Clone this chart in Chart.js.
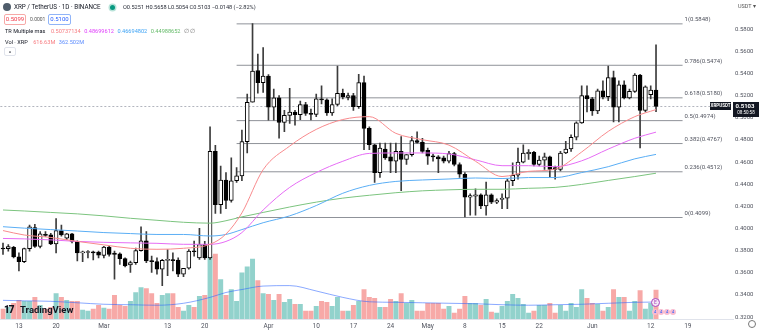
<!DOCTYPE html>
<html>
<head>
<meta charset="utf-8">
<script src="https://cdn.jsdelivr.net/npm/chart.js@4.4.0/dist/chart.umd.min.js"></script>
<style>
  html, body { margin: 0; padding: 0; background: #fff; }
  #wrap { position: relative; width: 760px; height: 331px; overflow: hidden; font-family: Roboto, "Liberation Sans", sans-serif; }
  #chart { position: absolute; left: 0; top: 0; }
  .t { position: absolute; white-space: nowrap; font-size: 6px; line-height: 7px; color: #131722; }
  .row { position: absolute; display: flex; gap: 3.5px; white-space: nowrap; font-size: 5.6px; line-height: 7px; color: #131722; }
  .box { position: absolute; font-size: 6px; line-height: 8px; text-align: center; border: 1px solid; border-radius: 2px; background: #fff; }
  .dot { position: absolute; border-radius: 50%; }
</style>
</head>
<body>
<div id="wrap">
  <canvas id="chart" width="760" height="331"></canvas>

  <div class="dot" style="left:3px;top:3px;width:8px;height:8px;background:#4f5d6b;"></div>
  <div class="t" style="left:14px;top:4px;font-size:6.3px;">XRP / TetherUS · 1D · BINANCE</div>
  <div class="dot" style="left:110px;top:5px;width:5px;height:5px;background:#089981;box-shadow:0 0 0 1.5px #b9e3d9;"></div>
  <div class="t" style="left:123px;top:4px;font-size:5.6px;color:#2a2e39;">O0.5251 H0.5658 L0.5054 C0.5103 −0.0148 (−2.82%)</div>

  <div class="box" style="left:4px;top:14px;width:20px;height:9px;border-color:#f7a9a7;color:#f23645;">0.5099</div>
  <div class="t" style="left:30px;top:16px;font-size:5px;color:#555;">0.0001</div>
  <div class="box" style="left:48px;top:14px;width:21px;height:9px;border-color:#90b4f8;color:#2962ff;">0.5100</div>

  <div class="row" style="left:5px;top:28px;">
    <span style="margin-right:2px;">TR Multiple mas</span>
    <span style="color:#f77c80;">0.50737134</span>
    <span style="color:#e040fb;">0.48699612</span>
    <span style="color:#42a5f5;">0.46694802</span>
    <span style="color:#66bb6a;">0.44988652</span>
    <span style="color:#777;">∅ ∅</span>
  </div>

  <div class="row" style="left:5px;top:39px;">
    <span style="margin-right:2px;">Vol · XRP</span>
    <span style="color:#f77c80;">616.63M</span>
    <span style="color:#5b8cff;">362.502M</span>
  </div>

  <div class="box" style="left:4px;top:47px;width:10px;height:7px;border-color:#e0e3eb;color:#131722;line-height:9px;">^</div>

  <div class="t" style="left:738px;top:3px;font-size:5.5px;color:#555;">USDT ▾</div>

  <div class="t" style="left:4px;top:304px;font-size:10px;line-height:11px;font-weight:900;letter-spacing:-1px;">17</div>
  <div class="t" style="left:20px;top:304px;font-size:9.5px;line-height:11px;font-weight:700;">TradingView</div>

  <div class="dot" style="left:651px;top:298px;width:7px;height:7px;border:1px solid #ab47bc;background:#f3e5f5;color:#ab47bc;font-size:5px;line-height:7px;text-align:center;">E</div>
  <div class="dot" style="left:652px;top:309px;width:6px;height:6px;background:#f8bbd0;color:#2962ff;font-size:4px;line-height:6px;text-align:center;">4</div>
  <div class="dot" style="left:658px;top:309px;width:6px;height:6px;background:#f8bbd0;color:#2962ff;font-size:4px;line-height:6px;text-align:center;">4</div>
  <div class="dot" style="left:664px;top:309px;width:6px;height:6px;background:#f8bbd0;color:#2962ff;font-size:4px;line-height:6px;text-align:center;">4</div>
  <div class="dot" style="left:670px;top:309px;width:6px;height:6px;background:#f8bbd0;color:#2962ff;font-size:4px;line-height:6px;text-align:center;">4</div>

  <div class="dot" style="left:748px;top:320px;width:6px;height:6px;border:1px solid #777;"></div>
</div>

<script>
// daily candles, 2023-02-10 .. 2023-06-13
const opens = [
  0.3818, 0.3818, 0.3830, 0.3744, 0.3700, 0.3818, 0.4008, 0.3839, 0.3948, 0.3942,
  0.3860, 0.3981, 0.3913, 0.3951, 0.3883, 0.3780, 0.3783, 0.3786, 0.3786, 0.3756,
  0.3833, 0.3777, 0.3771, 0.3727, 0.3670, 0.3691, 0.3800, 0.3889, 0.3706, 0.3700,
  0.3632, 0.3712, 0.3715, 0.3715, 0.3588, 0.3641, 0.3795, 0.3735, 0.3854, 0.3735,
  0.4697, 0.4215, 0.4437, 0.4253, 0.4431, 0.4475, 0.4785, 0.5140, 0.5427, 0.5318,
  0.5377, 0.5096, 0.5179, 0.4957, 0.5022, 0.5052, 0.5028, 0.5120, 0.5040, 0.5031,
  0.5170, 0.5162, 0.5043, 0.5120, 0.5220, 0.5184, 0.5200, 0.5100, 0.5318, 0.4904,
  0.4756, 0.4505, 0.4718, 0.4647, 0.4608, 0.4697, 0.4623, 0.4667, 0.4794, 0.4777,
  0.4706, 0.4650, 0.4647, 0.4638, 0.4608, 0.4676, 0.4578, 0.4490, 0.4283, 0.4292,
  0.4303, 0.4203, 0.4303, 0.4238, 0.4262, 0.4274, 0.4431, 0.4481, 0.4599, 0.4676,
  0.4688, 0.4578, 0.4617, 0.4647, 0.4549, 0.4534, 0.4682, 0.4718, 0.4824, 0.4954,
  0.5200, 0.5170, 0.5061, 0.5244, 0.5191, 0.5362, 0.5096, 0.5297, 0.5179, 0.5238,
  0.5386, 0.5067, 0.5208, 0.5251
];
const highs = [
  0.3869, 0.3854, 0.3839, 0.3780, 0.3824, 0.4031, 0.4037, 0.3972, 0.3972, 0.3957,
  0.4090, 0.4031, 0.3957, 0.3957, 0.3889, 0.3795, 0.3800, 0.3795, 0.3795, 0.3839,
  0.3839, 0.3795, 0.3780, 0.3735, 0.3706, 0.3824, 0.4016, 0.3972, 0.3750, 0.3735,
  0.3721, 0.3809, 0.3780, 0.3735, 0.3641, 0.3809, 0.3886, 0.4002, 0.3883, 0.4918,
  0.4750, 0.4564, 0.4505, 0.4638, 0.4549, 0.4889, 0.5214, 0.5850, 0.5575, 0.5634,
  0.5390, 0.5259, 0.5200, 0.5066, 0.5265, 0.5066, 0.5150, 0.5140, 0.5079, 0.5214,
  0.5288, 0.5170, 0.5170, 0.5466, 0.5259, 0.5222, 0.5220, 0.5392, 0.5377, 0.4918,
  0.4760, 0.4771, 0.4771, 0.4771, 0.4771, 0.4830, 0.4667, 0.4830, 0.4874, 0.4815,
  0.4726, 0.4672, 0.4658, 0.4653, 0.4697, 0.4688, 0.4593, 0.4505, 0.4312, 0.4357,
  0.4312, 0.4420, 0.4312, 0.4268, 0.4312, 0.4446, 0.4593, 0.4726, 0.4756, 0.4712,
  0.4697, 0.4653, 0.4682, 0.4653, 0.4564, 0.4697, 0.4786, 0.4845, 0.4963, 0.5288,
  0.5288, 0.5185, 0.5259, 0.5333, 0.5466, 0.5421, 0.5333, 0.5333, 0.5259, 0.5398,
  0.5392, 0.5288, 0.5288, 0.5658
];
const lows = [
  0.3765, 0.3795, 0.3735, 0.3617, 0.3691, 0.3795, 0.3830, 0.3824, 0.3928, 0.3854,
  0.3780, 0.3930, 0.3900, 0.3869, 0.3706, 0.3700, 0.3735, 0.3715, 0.3735, 0.3735,
  0.3750, 0.3543, 0.3676, 0.3653, 0.3602, 0.3676, 0.3795, 0.3691, 0.3602, 0.3588,
  0.3484, 0.3573, 0.3617, 0.3564, 0.3564, 0.3632, 0.3750, 0.3721, 0.3721, 0.3720,
  0.4135, 0.4135, 0.4180, 0.4238, 0.4416, 0.4431, 0.4682, 0.5140, 0.5222, 0.5229,
  0.4978, 0.4978, 0.4815, 0.4874, 0.4948, 0.4933, 0.4983, 0.5022, 0.4981, 0.5010,
  0.5125, 0.5022, 0.5022, 0.5110, 0.5170, 0.5160, 0.5066, 0.5085, 0.4711, 0.4711,
  0.4416, 0.4461, 0.4623, 0.4505, 0.4505, 0.4342, 0.4578, 0.4653, 0.4771, 0.4682,
  0.4578, 0.4608, 0.4505, 0.4593, 0.4593, 0.4564, 0.4461, 0.4105, 0.4120, 0.4120,
  0.4179, 0.4120, 0.4223, 0.4223, 0.4179, 0.4179, 0.4386, 0.4446, 0.4593, 0.4623,
  0.4564, 0.4564, 0.4534, 0.4461, 0.4445, 0.4519, 0.4675, 0.4697, 0.4800, 0.4948,
  0.5052, 0.5022, 0.5037, 0.5170, 0.5155, 0.4963, 0.4963, 0.5170, 0.5170, 0.5229,
  0.4727, 0.5052, 0.5170, 0.5054
];
const closes = [
  0.3815, 0.3836, 0.3744, 0.3700, 0.3818, 0.4016, 0.3839, 0.3951, 0.3937, 0.3860,
  0.3981, 0.3942, 0.3951, 0.3883, 0.3780, 0.3783, 0.3786, 0.3780, 0.3759, 0.3833,
  0.3765, 0.3765, 0.3727, 0.3662, 0.3691, 0.3800, 0.3889, 0.3706, 0.3700, 0.3632,
  0.3712, 0.3715, 0.3710, 0.3588, 0.3641, 0.3795, 0.3790, 0.3854, 0.3735, 0.4697,
  0.4215, 0.4437, 0.4253, 0.4431, 0.4475, 0.4785, 0.5140, 0.5421, 0.5318, 0.5377,
  0.5096, 0.5179, 0.4957, 0.5022, 0.5052, 0.5028, 0.5120, 0.5040, 0.5031, 0.5170,
  0.5162, 0.5043, 0.5120, 0.5220, 0.5190, 0.5200, 0.5100, 0.5318, 0.4904, 0.4756,
  0.4505, 0.4726, 0.4638, 0.4608, 0.4697, 0.4623, 0.4667, 0.4794, 0.4777, 0.4697,
  0.4653, 0.4647, 0.4629, 0.4608, 0.4676, 0.4578, 0.4490, 0.4283, 0.4297, 0.4303,
  0.4203, 0.4303, 0.4238, 0.4253, 0.4274, 0.4431, 0.4481, 0.4599, 0.4682, 0.4688,
  0.4578, 0.4617, 0.4647, 0.4534, 0.4534, 0.4682, 0.4718, 0.4824, 0.4954, 0.5200,
  0.5170, 0.5061, 0.5244, 0.5191, 0.5362, 0.5096, 0.5297, 0.5179, 0.5238, 0.5386,
  0.5067, 0.5279, 0.5250, 0.5103
];
// volume in millions of XRP
const volumes = [
  210, 252, 336, 399, 378, 378, 462, 294, 210, 252,
  546, 462, 399, 378, 378, 189, 168, 210, 294, 231,
  210, 504, 294, 273, 378, 567, 672, 651, 546, 336,
  504, 546, 546, 252, 168, 294, 252, 483, 504, 1344,
  1386, 840, 504, 630, 378, 987, 1113, 1281, 819, 546,
  525, 399, 525, 357, 420, 315, 315, 168, 168, 273,
  378, 357, 273, 462, 168, 168, 294, 378, 630, 462,
  441, 252, 252, 420, 378, 546, 336, 399, 168, 168,
  336, 336, 336, 210, 273, 126, 210, 483, 336, 336,
  294, 420, 147, 126, 273, 378, 525, 441, 315, 126,
  168, 294, 294, 336, 126, 294, 168, 336, 252, 630,
  441, 336, 315, 168, 252, 630, 462, 462, 168, 378,
  609, 210, 336, 617
];

// moving averages at sample dates
const maDates = [
  "2023-02-10", "2023-02-14", "2023-02-19", "2023-02-24", "2023-03-01", "2023-03-06",
  "2023-03-11", "2023-03-16", "2023-03-21", "2023-03-24", "2023-03-27", "2023-03-31",
  "2023-04-05", "2023-04-10", "2023-04-15", "2023-04-20", "2023-04-25", "2023-04-30",
  "2023-05-05", "2023-05-10", "2023-05-15", "2023-05-20", "2023-05-25", "2023-05-30",
  "2023-06-04", "2023-06-09", "2023-06-13"
];
const ma1 = [0.3981, 0.3941, 0.3919, 0.3883, 0.3852, 0.3821, 0.3812, 0.3821, 0.3857, 0.3950, 0.4141, 0.4531, 0.4744, 0.4895, 0.4984, 0.5010, 0.4859, 0.4802, 0.4753, 0.4607, 0.4469, 0.4516, 0.4536, 0.4691, 0.4877, 0.5010, 0.5074];
const ma2 = [0.3910, 0.3906, 0.3897, 0.3883, 0.3875, 0.3870, 0.3866, 0.3857, 0.3857, 0.3883, 0.3963, 0.4167, 0.4371, 0.4505, 0.4607, 0.4678, 0.4682, 0.4682, 0.4673, 0.4620, 0.4567, 0.4567, 0.4558, 0.4611, 0.4717, 0.4815, 0.4870];
const ma3 = [0.4016, 0.4003, 0.3990, 0.3977, 0.3963, 0.3954, 0.3946, 0.3946, 0.3932, 0.3946, 0.3990, 0.4052, 0.4114, 0.4207, 0.4318, 0.4389, 0.4425, 0.4438, 0.4447, 0.4456, 0.4451, 0.4460, 0.4460, 0.4505, 0.4558, 0.4629, 0.4669];
const ma4 = [0.4167, 0.4158, 0.4145, 0.4132, 0.4114, 0.4092, 0.4074, 0.4056, 0.4048, 0.4070, 0.4105, 0.4145, 0.4194, 0.4238, 0.4274, 0.4300, 0.4323, 0.4340, 0.4349, 0.4354, 0.4354, 0.4363, 0.4371, 0.4398, 0.4434, 0.4469, 0.4499];
const volMa = [399, 389, 378, 347, 315, 305, 294, 336, 462, 567, 630, 704, 714, 599, 462, 368, 357, 347, 336, 326, 305, 294, 305, 315, 336, 357, 362.5];

// fibonacci retracement
const fibRatios = ["1", "0.786", "0.618", "0.5", "0.382", "0.236", "0"];
const fibPrices = [0.5848, 0.5474, 0.5180, 0.4974, 0.4767, 0.4512, 0.4099];
const fibFrom = "2023-03-26";
const fibTo = "2023-06-18";

const priceTicks = [0.32, 0.34, 0.36, 0.38, 0.40, 0.42, 0.44, 0.46, 0.48, 0.50, 0.52, 0.54, 0.56, 0.58];
const xTickText = {
  "2023-02-13": "13", "2023-02-20": "20", "2023-03-01": "Mar", "2023-03-13": "13",
  "2023-03-20": "20", "2023-04-01": "Apr", "2023-04-10": "10", "2023-04-17": "17",
  "2023-04-24": "24", "2023-05-01": "May", "2023-05-08": "8", "2023-05-15": "15",
  "2023-05-22": "22", "2023-06-01": "Jun", "2023-06-12": "12", "2023-06-19": "19"
};
const lastTime = "08:50:58";

// calendar days shown on the axis (data plus empty space on the right)
const dates = [];
for (let t = Date.UTC(2023, 1, 10); t <= Date.UTC(2023, 5, 27); t += 86400000) {
  dates.push(new Date(t).toISOString().slice(0, 10));
}

const upCol = "#ffffff";
const downCol = "#000000";
const isUp = opens.map((o, i) => closes[i] >= o);

const lineSet = (data, color, width) => ({
  type: "line",
  data: maDates.map((d, i) => ({ x: d, y: data[i] })),
  borderColor: color,
  borderWidth: width,
  pointRadius: 0,
  cubicInterpolationMode: "monotone",
  yAxisID: "y",
  order: 0
});

const fibSets = fibPrices.map(p => ({
  type: "line",
  data: [{ x: fibFrom, y: p }, { x: fibTo, y: p }],
  borderColor: "#8f9299",
  borderWidth: 1,
  pointRadius: 0,
  yAxisID: "y",
  order: 3
}));

const volLine = lineSet(volMa, "rgba(41,98,255,0.55)", 1);
volLine.yAxisID = "yv";
volLine.order = 4;

const overlay = {
  id: "overlay",
  beforeDatasetsDraw(chart) {
    const { ctx, chartArea, scales } = chart;
    const yp = scales.y.getPixelForValue(closes[closes.length - 1]);
    ctx.save();
    ctx.strokeStyle = "#b2b5be";
    ctx.lineWidth = 1;
    ctx.setLineDash([2, 2]);
    ctx.beginPath();
    ctx.moveTo(chartArea.left, Math.round(yp) + 0.5);
    ctx.lineTo(chartArea.right - 23, Math.round(yp) + 0.5);
    ctx.stroke();
    ctx.restore();
  },
  afterDatasetsDraw(chart) {
    const { ctx, chartArea, scales } = chart;
    ctx.save();
    ctx.font = "6px Roboto, 'Liberation Sans', sans-serif";
    ctx.fillStyle = "#50535e";
    ctx.textBaseline = "middle";
    ctx.textAlign = "left";
    const xe = scales.x.getPixelForValue(dates.indexOf(fibTo));
    fibPrices.forEach((p, i) => {
      const y = scales.y.getPixelForValue(p);
      ctx.fillText(fibRatios[i] + "(" + p.toFixed(4) + ")", xe + 2, y - 4);
    });

    const last = closes[closes.length - 1];
    const yp = Math.round(scales.y.getPixelForValue(last));
    ctx.fillStyle = "#131722";
    ctx.fillRect(chartArea.right - 23, yp - 4, 21, 8);
    ctx.fillRect(chartArea.right, yp - 4, 26, 15);
    ctx.fillStyle = "#ffffff";
    ctx.font = "bold 4.5px Roboto, 'Liberation Sans', sans-serif";
    ctx.textAlign = "center";
    ctx.fillText("XRPUSDT", chartArea.right - 12.5, yp);
    ctx.font = "bold 6px Roboto, 'Liberation Sans', sans-serif";
    ctx.fillText(last.toFixed(4), chartArea.right + 12, yp);
    ctx.font = "4.5px Roboto, 'Liberation Sans', sans-serif";
    ctx.fillText(lastTime, chartArea.right + 13, yp + 7);
    ctx.restore();
  }
};

new Chart(document.getElementById("chart"), {
  type: "bar",
  data: {
    labels: dates,
    datasets: [
      lineSet(ma1, "#f88a8d", 1),
      lineSet(ma2, "#e66cf5", 1),
      lineSet(ma3, "#5aaef5", 1),
      lineSet(ma4, "#7cc47f", 1),
      {
        // candle bodies
        data: opens.map((o, i) => [o, closes[i]]),
        backgroundColor: isUp.map(u => u ? upCol : downCol),
        borderColor: "#000000",
        borderWidth: 1,
        borderSkipped: false,
        barThickness: 4,
        minBarLength: 1,
        grouped: false,
        yAxisID: "y",
        order: 1
      },
      {
        // wicks
        data: lows.map((l, i) => [l, highs[i]]),
        backgroundColor: "#3c3c3c",
        barThickness: 1,
        grouped: false,
        yAxisID: "y",
        order: 2
      },
      ...fibSets,
      volLine,
      {
        data: volumes,
        backgroundColor: isUp.map(u => u ? "rgba(38,166,154,0.5)" : "rgba(239,83,80,0.5)"),
        barThickness: 4.3,
        grouped: false,
        yAxisID: "yv",
        order: 5
      }
    ]
  },
  options: {
    responsive: false,
    animation: false,
    devicePixelRatio: 1,
    layout: { padding: 0 },
    plugins: { legend: { display: false }, tooltip: { enabled: false } },
    scales: {
      x: {
        type: "category",
        offset: true,
        grid: { display: false, drawTicks: false },
        border: { color: "#e0e3eb" },
        afterFit: s => { s.height = 12; },
        ticks: {
          autoSkip: false,
          maxRotation: 0,
          padding: 3,
          color: "#50535e",
          font: { size: 6.5, family: "Roboto, 'Liberation Sans', sans-serif" },
          callback: function (v) { return xTickText[this.getLabelForValue(v)] || ""; }
        }
      },
      y: {
        position: "right",
        min: 0.31824,
        max: 0.60130,
        grid: { display: false, drawTicks: false },
        border: { display: false },
        afterFit: s => { s.width = 27; },
        afterBuildTicks: s => { s.ticks = priceTicks.map(v => ({ value: v })); },
        ticks: {
          crossAlign: "near",
          padding: 2,
          color: "#50535e",
          font: { size: 6, family: "Roboto, 'Liberation Sans', sans-serif" },
          callback: v => v.toFixed(4)
        }
      },
      yv: {
        display: false,
        min: 0,
        max: 6699
      }
    }
  },
  plugins: [overlay]
});
</script>
</body>
</html>
